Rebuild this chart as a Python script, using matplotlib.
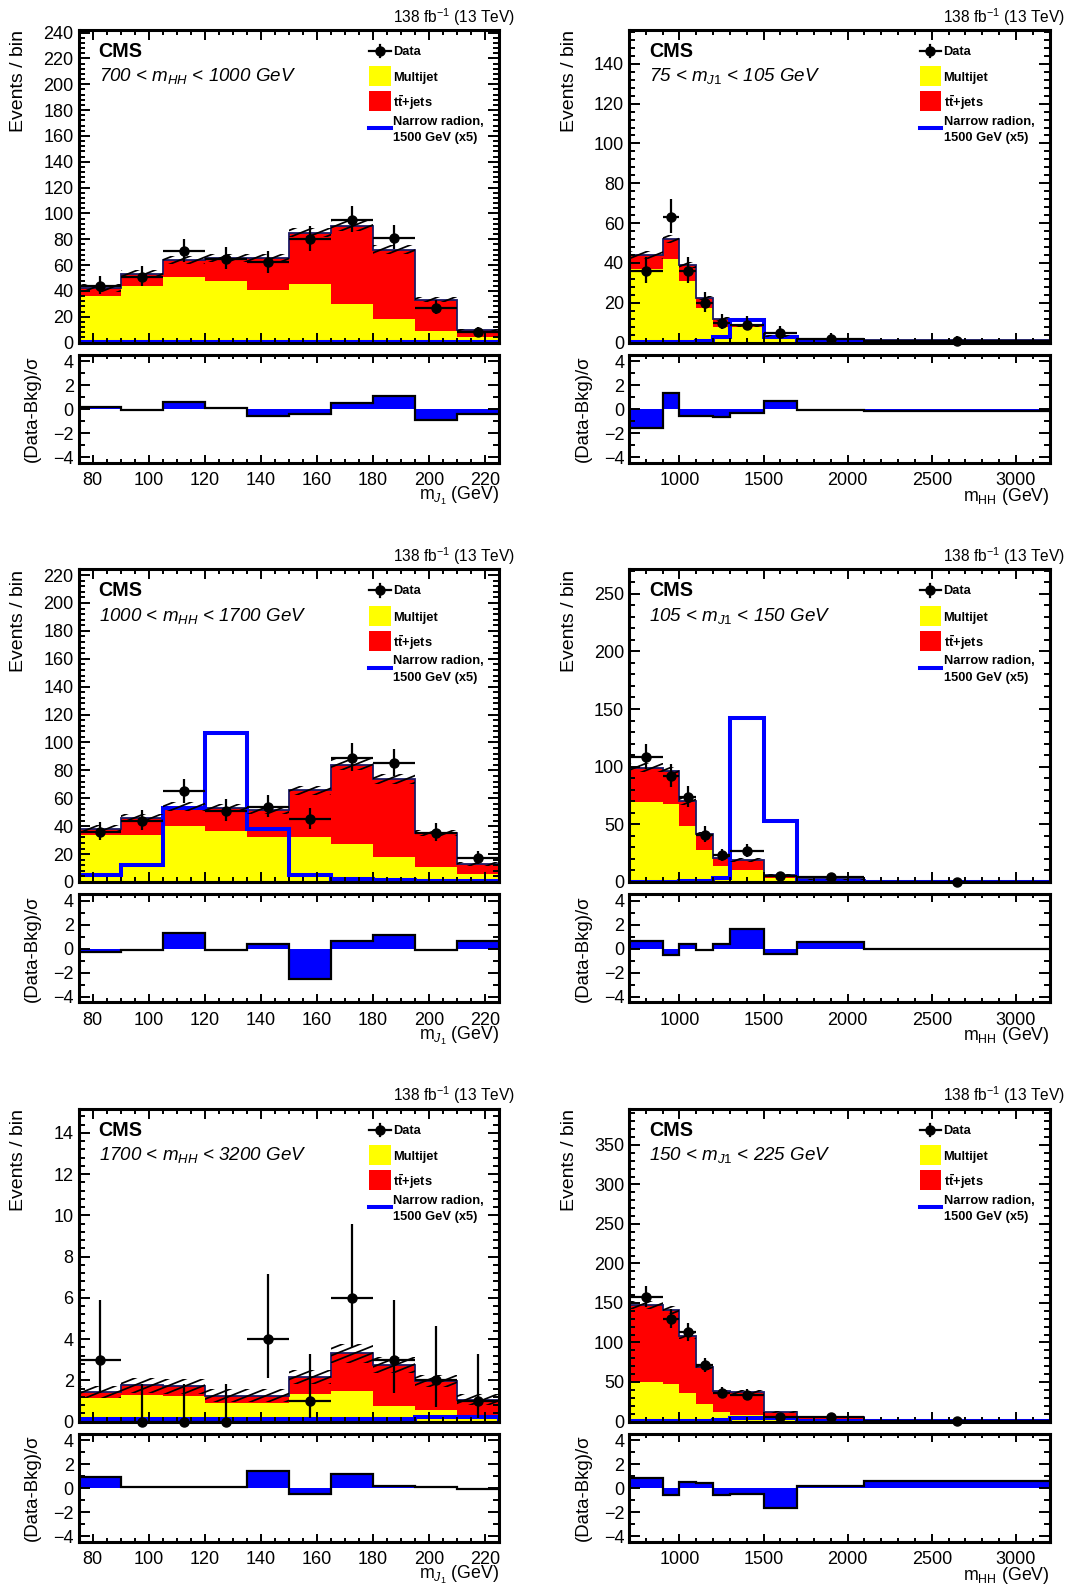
import numpy as np
import matplotlib
matplotlib.use('Agg')
import matplotlib.pyplot as plt
from matplotlib.patches import Rectangle, PathPatch
from matplotlib.path import Path
from matplotlib.collections import LineCollection
from matplotlib.lines import Line2D
from matplotlib.ticker import MultipleLocator

plt.rcParams['font.family'] = ['Liberation Sans', 'DejaVu Sans']
plt.rcParams['mathtext.fontset'] = 'custom'
plt.rcParams['mathtext.rm'] = 'Liberation Sans'
plt.rcParams['mathtext.it'] = 'Liberation Sans:italic'
plt.rcParams['mathtext.bf'] = 'Liberation Sans:bold'
plt.rcParams['axes.unicode_minus'] = True

# ---------------- data ----------------
mj_edges = [75, 90, 105, 120, 135, 150, 165, 180, 195, 210, 225]
mhh_edges = [700, 900, 1000, 1100, 1200, 1300, 1500, 1700, 2100, 3200]

# panel 1: 700 < mHH < 1000 GeV (vs mJ1)
p1_multijet = [36, 43.6, 51, 47.5, 40.5, 45, 30, 18, 8.6, 4]
p1_ttbar = [6, 9.4, 13, 18, 25, 40, 60, 54, 24.4, 5.3]
p1_signal = [0.5, 0.5, 0.5, 0.5, 0.5, 0.5, 0.5, 0.5, 0.5, 0.5]
p1_data = [44, 51, 71, 65, 62, 80, 95, 81, 27, 8]
p1_unc = [3, 3, 3, 3, 3, 3.5, 4, 3.5, 2, 1]
p1_pull = [0.2, -0.1, 0.6, 0.05, -0.55, -0.45, 0.5, 1.05, -0.9, -0.45]

# panel 2: 75 < mJ1 < 105 GeV (vs mHH)
p2_multijet = [37, 42, 31, 17.4, 7.8, 7.8, 1.7, 0.8, 0.4]
p2_ttbar = [7, 10, 8, 5.2, 4, 0.9, 1.8, 0.9, 0.8]
p2_signal = [0.3, 0.3, 0.5, 0.8, 2.6, 11.3, 3, 0.5, 0.2]
p2_data = [36, 63, 36, 20, 10, 9, 5, 2, 1]
p2_unc = [2, 2, 1.5, 1, 0.8, 0.8, 0.5, 0.3, 0.2]
p2_pull = [-1.6, 1.35, -0.55, -0.55, -0.65, -0.3, 0.7, -0.1, -0.2]

# panel 3: 1000 < mHH < 1700 GeV (vs mJ1)
p3_multijet = [34, 34, 40, 36.4, 32, 32, 27, 18, 11, 6]
p3_ttbar = [4, 12, 14, 16.6, 19.7, 33.6, 57, 56, 24, 7]
p3_signal = [5, 12, 53, 107, 38, 5, 2, 1.5, 1, 1]
p3_data = [36, 44, 65, 51, 54, 45, 89, 85, 35, 17]
p3_unc = [2.5, 2.5, 3, 3, 3, 3.5, 4, 3.5, 2, 1.5]
p3_pull = [-0.3, -0.1, 1.3, -0.1, 0.4, -2.5, 0.6, 1.1, -0.1, 0.6]

# panel 4: 105 < mJ1 < 150 GeV (vs mHH)
p4_multijet = [69.5, 67.5, 48.8, 27.5, 13.9, 10.4, 3.6, 1.2, 0.4]
p4_ttbar = [29.5, 28.5, 21.2, 13.9, 6.8, 8.8, 2.3, 1.2, 0.5]
p4_signal = [0.3, 0.3, 0.5, 0.8, 3.5, 142, 52.7, 1, 0.3]
p4_data = [108, 92, 74, 41, 23, 27, 5, 4, 0]
p4_unc = [4, 4, 3, 2, 1.5, 1.5, 0.8, 0.5, 0.3]
p4_pull = [0.6, -0.5, 0.4, -0.15, 0.35, 1.6, -0.45, 0.55, 0.0]

# panel 5: 1700 < mHH < 3200 GeV (vs mJ1)
p5_multijet = [1.14, 1.3, 1.22, 0.9, 0.9, 1.34, 1.5, 0.77, 0.54, 0.33]
p5_ttbar = [0.28, 0.45, 0.48, 0.36, 0.36, 0.83, 1.8, 1.97, 1.42, 0.73]
p5_signal = [0.1, 0.1, 0.1, 0.1, 0.1, 0.1, 0.12, 0.12, 0.2, 0.2]
p5_data = [3, 0, 0, 0, 4, 1, 6, 3, 2, 1]
p5_unc = [0.3, 0.35, 0.35, 0.3, 0.3, 0.35, 0.45, 0.4, 0.3, 0.25]
p5_pull = [0.9, 0.05, 0.05, 0.05, 1.4, -0.5, 1.15, 0.2, 0.1, -0.05]

# panel 6: 150 < mJ1 < 225 GeV (vs mHH)
p6_multijet = [50, 48, 36, 21.7, 12, 8.7, 4.3, 1, 0.3]
p6_ttbar = [97, 93, 72, 47, 26, 28.7, 7.7, 4.6, 1]
p6_signal = [0.5, 0.5, 0.5, 1, 2, 5, 4, 1, 0.3]
p6_data = [158, 130, 113, 71, 36, 34, 6, 6, 1]
p6_unc = [5, 5, 4, 3, 2, 2, 1, 0.6, 0.3]
p6_pull = [0.8, -0.6, 0.5, 0.4, -0.6, -0.5, -1.7, 0.2, 0.6]

YELLOW = '#ffff00'
RED = '#ff0000'
BLUE = '#0000ff'

W, H = 1072, 1587
fig = plt.figure(figsize=(W / 100, H / 100), dpi=100)


def add_ax(left, top, width, height):
    return fig.add_axes([left / W, 1 - (top + height) / H, width / W, height / H])


def garwood(n):
    n = np.asarray(n, float)
    lo = np.zeros_like(n)
    hi = np.zeros_like(n)
    for i, v in enumerate(n):
        if v == 0:
            lo[i] = 0.0
            hi[i] = 1.841
            continue
        k = 2 * v
        q = k * (1 - 2 / (9 * k) - np.sqrt(2 / (9 * k))) ** 3
        lo[i] = v - q / 2
        k = 2 * v + 2
        q = k * (1 - 2 / (9 * k) + np.sqrt(2 / (9 * k))) ** 3
        hi[i] = q / 2 - v
    return lo, hi


def hatch_band(ax, edges, lo, hi, wpx, hpx):
    verts, codes = [], []
    for i in range(len(lo)):
        x0, x1 = edges[i], edges[i + 1]
        verts += [(x0, lo[i]), (x1, lo[i]), (x1, hi[i]), (x0, hi[i]), (x0, lo[i])]
        codes += [Path.MOVETO, Path.LINETO, Path.LINETO, Path.LINETO, Path.CLOSEPOLY]
    patch = PathPatch(Path(verts, codes), transform=ax.transData,
                      facecolor='none', edgecolor='none')
    ax.add_patch(patch)
    k = 0.4
    d = 7.0
    segs = []
    c = -k * wpx
    while c < hpx:
        segs.append([(0, c / hpx), (1, (c + k * wpx) / hpx)])
        c += d
    lc = LineCollection(segs, transform=ax.transAxes, colors='black', linewidths=1.25)
    lc.set_clip_path(patch)
    ax.add_collection(lc, autolim=False)


def style_axis(ax, xmaj, xmin, ymaj, ymin, ylen_major, ylen_minor, xlen_major, xlen_minor):
    ax.xaxis.set_major_locator(MultipleLocator(xmaj))
    ax.xaxis.set_minor_locator(MultipleLocator(xmin))
    ax.yaxis.set_major_locator(MultipleLocator(ymaj))
    ax.yaxis.set_minor_locator(MultipleLocator(ymin))
    ax.tick_params(axis='both', which='both', direction='in', top=True, right=True,
                   width=1.4, labelsize=13.0, colors='black')
    ax.tick_params(axis='y', which='major', length=ylen_major, pad=3.5)
    ax.tick_params(axis='y', which='minor', length=ylen_minor)
    ax.tick_params(axis='x', which='major', length=xlen_major, pad=6.8)
    ax.tick_params(axis='x', which='minor', length=xlen_minor)
    for s in ax.spines.values():
        s.set_linewidth(2.2)


def draw_panel(col, row, edges, multijet, ttbar, signal, data, unc, pull,
               ymax, ymaj, ymin, region, xlabel, xmaj, xmin):
    left = [78.5, 629][col]
    wpx = 420.5
    mtop = [30, 569.5, 1109][row]
    mh = 312.5
    rtop = [354.5, 894, 1433.5][row]
    rh = 108.5

    edges = np.asarray(edges, float)
    mjv = np.asarray(multijet, float)
    tot = mjv + np.asarray(ttbar, float)
    sig = np.asarray(signal, float)
    dat = np.asarray(data, float)
    un = np.asarray(unc, float)
    centers = 0.5 * (edges[1:] + edges[:-1])
    halfw = 0.5 * (edges[1:] - edges[:-1])

    ax = add_ax(left, mtop, wpx, mh)
    ax.stairs(mjv, edges, baseline=0, fill=True, color=YELLOW, lw=0)
    ax.stairs(tot, edges, baseline=mjv, fill=True, color=RED, lw=0)
    ax.stairs(tot, edges, baseline=None, color='#1a1a66', lw=1.3)
    hatch_band(ax, edges, tot - un, tot + un, wpx, mh)
    ax.stairs(sig, edges, baseline=0, color=BLUE, lw=2.9)
    lo, hi = garwood(dat)
    ax.errorbar(centers, dat, xerr=halfw, yerr=[lo, hi], fmt='o', color='black',
                ms=6.5, elinewidth=1.6, capsize=0, zorder=5, clip_on=False)
    ax.set_xlim(edges[0], edges[-1])
    ax.set_ylim(0, ymax)
    style_axis(ax, xmaj, xmin, ymaj, ymin, 8, 4, 7, 3.5)
    ax.tick_params(axis='x', labelbottom=False)

    ax.text(0.048, 0.932, 'CMS', transform=ax.transAxes, fontsize=14.2,
            fontweight='bold', ha='left', va='center')
    ax.text(0.048, 0.852, region, transform=ax.transAxes, fontsize=13.5,
            style='italic', ha='left', va='center')
    ax.text(1.037, 1.008, r'138 fb$^{-1}$ (13 TeV)', transform=ax.transAxes,
            fontsize=11.2, ha='right', va='bottom')

    # legend
    sx = 0.717
    shw = 0.025
    tx = 0.748
    fs = 9.3
    ax.add_line(Line2D([sx - shw, sx + shw], [0.933, 0.933], transform=ax.transAxes,
                       color='black', lw=1.6))
    ax.add_line(Line2D([sx, sx], [0.933 - 0.02, 0.933 + 0.02], transform=ax.transAxes,
                       color='black', lw=1.6))
    ax.add_line(Line2D([sx], [0.933], transform=ax.transAxes, marker='o', ms=6.5,
                       color='black', lw=0))
    ax.text(tx, 0.931, 'Data', transform=ax.transAxes, fontsize=fs,
            fontweight='bold', ha='left', va='center')
    ax.add_patch(Rectangle((sx - shw, 0.852 - 0.032), 2 * shw, 0.064,
                           transform=ax.transAxes, facecolor=YELLOW, edgecolor='none'))
    ax.text(tx, 0.846, 'Multijet', transform=ax.transAxes, fontsize=fs,
            fontweight='bold', ha='left', va='center')
    ax.add_patch(Rectangle((sx - shw, 0.772 - 0.032), 2 * shw, 0.064,
                           transform=ax.transAxes, facecolor=RED, edgecolor='none'))
    ax.text(tx, 0.767, r'$\mathbf{t\bar{t}}$+jets', transform=ax.transAxes, fontsize=fs,
            fontweight='bold', ha='left', va='center')
    ax.add_line(Line2D([sx - shw, sx + shw], [0.686, 0.686], transform=ax.transAxes,
                       color=BLUE, lw=2.9))
    ax.text(tx, 0.707, 'Narrow radion,', transform=ax.transAxes, fontsize=fs,
            fontweight='bold', ha='left', va='center')
    ax.text(tx, 0.653, '1500 GeV (x5)', transform=ax.transAxes, fontsize=fs,
            fontweight='bold', ha='left', va='center')

    fig.text((left - 60) / W, 1 - mtop / H, 'Events / bin', rotation=90,
             fontsize=14.0, ha='center', va='top')

    # ratio
    r = add_ax(left, rtop, wpx, rh)
    pv = np.asarray(pull, float)
    r.stairs(pv, edges, baseline=0, fill=True, color=BLUE, lw=0)
    r.stairs(pv, edges, baseline=None, color='black', lw=1.6)
    r.set_xlim(edges[0], edges[-1])
    r.set_ylim(-4.5, 4.55)
    style_axis(r, xmaj, xmin, 2, 1, 8, 4, 6, 3)
    fig.text((left - 46) / W, 1 - (rtop + rh / 2) / H, '(Data-Bkg)/σ', rotation=90,
             fontsize=13.4, ha='center', va='center')
    r.text(1.0, -0.305, xlabel, transform=r.transAxes, fontsize=12.8,
           ha='right', va='center')


draw_panel(0, 0, mj_edges, p1_multijet, p1_ttbar, p1_signal, p1_data, p1_unc, p1_pull,
           242, 20, 4, r'700 < $m_{HH}$ < 1000 GeV', r'm$_{J_{1}}$ (GeV)', 20, 5)
draw_panel(1, 0, mhh_edges, p2_multijet, p2_ttbar, p2_signal, p2_data, p2_unc, p2_pull,
           157, 20, 4, r'75 < $m_{J1}$ < 105 GeV', r'm$_{\rm HH}$ (GeV)', 500, 100)
draw_panel(0, 1, mj_edges, p3_multijet, p3_ttbar, p3_signal, p3_data, p3_unc, p3_pull,
           224, 20, 4, r'1000 < $m_{HH}$ < 1700 GeV', r'm$_{J_{1}}$ (GeV)', 20, 5)
draw_panel(1, 1, mhh_edges, p4_multijet, p4_ttbar, p4_signal, p4_data, p4_unc, p4_pull,
           271, 50, 10, r'105 < $m_{J1}$ < 150 GeV', r'm$_{\rm HH}$ (GeV)', 500, 100)
draw_panel(0, 2, mj_edges, p5_multijet, p5_ttbar, p5_signal, p5_data, p5_unc, p5_pull,
           15.16, 2, 0.4, r'1700 < $m_{HH}$ < 3200 GeV', r'm$_{J_{1}}$ (GeV)', 20, 5)
draw_panel(1, 2, mhh_edges, p6_multijet, p6_ttbar, p6_signal, p6_data, p6_unc, p6_pull,
           395.5, 50, 10, r'150 < $m_{J1}$ < 225 GeV', r'm$_{\rm HH}$ (GeV)', 500, 100)

fig.savefig('out.png', dpi=100)
